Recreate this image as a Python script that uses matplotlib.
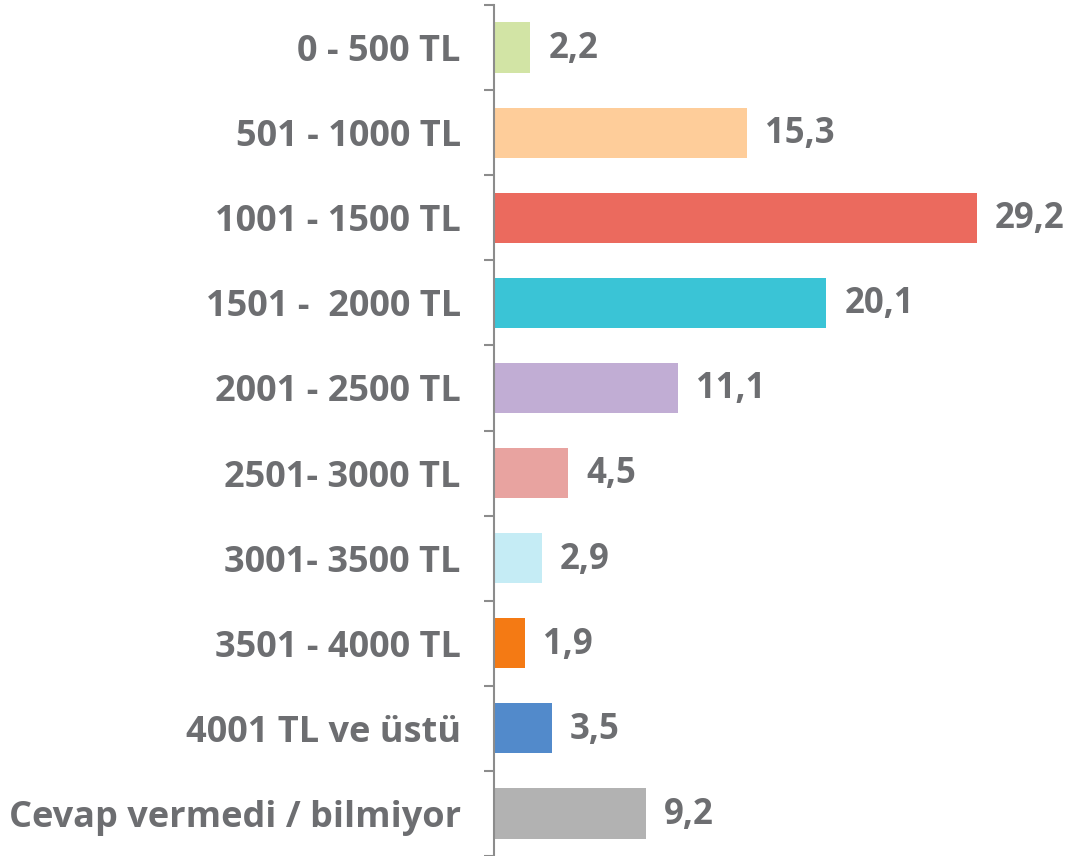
import matplotlib
matplotlib.use("Agg")
import matplotlib.pyplot as plt
import numpy as np

# Data
categories = ["0 - 500 TL", "501 - 1000 TL", "1001 - 1500 TL", "1501 -  2000 TL",
              "2001 - 2500 TL", "2501- 3000 TL", "3001- 3500 TL", "3501 - 4000 TL",
              "4001 TL ve üstü", "Cevap vermedi / bilmiyor"]
values = [2.2, 15.3, 29.2, 20.1, 11.1, 4.5, 2.9, 1.9, 3.5, 9.2]
colors = ["#d2e4a5", "#fecd9a", "#eb6a5e", "#3ac4d6", "#c1add4",
          "#e8a3a0", "#c5ecf5", "#f47a14", "#528acb", "#b2b2b2"]

text_color = "#6d6e71"
plt.rcParams['font.family'] = ['Open Sans', 'DejaVu Sans']

fig = plt.figure(figsize=(10.76, 8.56), dpi=100)
ax = fig.add_axes([494 / 1076, 0, 1 - 494 / 1076, 851 / 856])

y = np.arange(len(categories))
ax.barh(y, values, height=0.59, color=colors)

for yi, v in zip(y, values):
    ax.annotate(f"{v:.1f}".replace(".", ","), (v, yi), xytext=(13, -1),
                textcoords="offset points", va="center", ha="left",
                fontsize=25, fontweight="bold", color=text_color)

ax.set_ylim(len(categories) - 0.5, -0.5)
ax.set_xlim(0, 582 / 16.54)

ax.set_yticks(y)
ax.set_yticklabels(categories, fontsize=26, fontweight="bold", color=text_color)
ax.set_yticks(np.arange(-0.5, len(categories), 1), minor=True)
ax.tick_params(axis="y", which="major", length=0, pad=24)
ax.tick_params(axis="y", which="minor", length=7, width=1.5, color="#8c8c8c")

ax.set_xticks([])
for s in ["top", "right", "bottom"]:
    ax.spines[s].set_visible(False)
ax.spines["left"].set_color("#8c8c8c")
ax.spines["left"].set_linewidth(1.5)

fig.savefig("out.png", dpi=100)
